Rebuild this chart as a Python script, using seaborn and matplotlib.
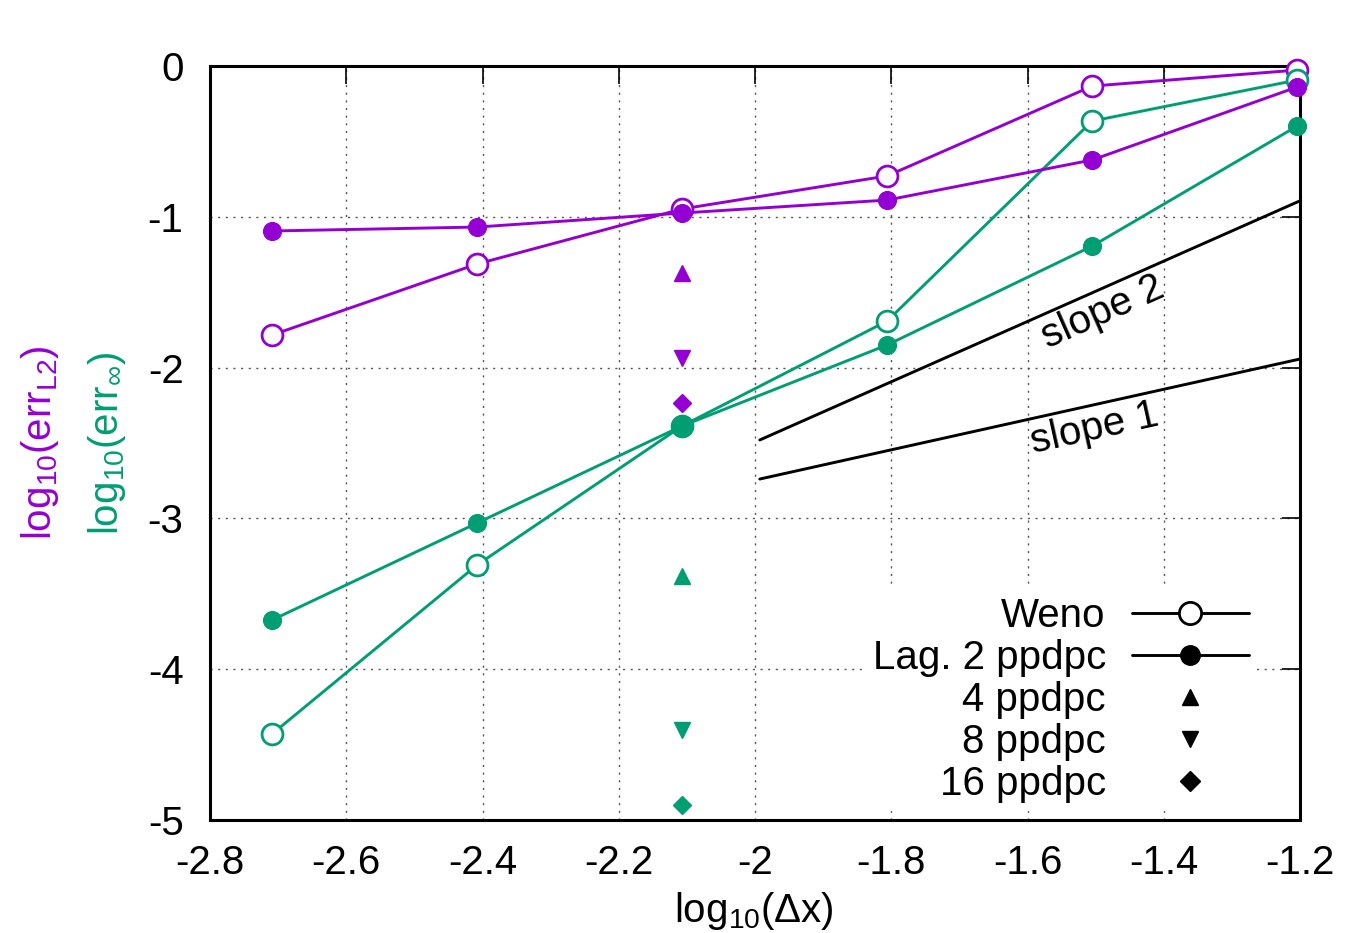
import numpy as np
import pandas as pd
import seaborn as sns
import matplotlib.pyplot as plt
from matplotlib.lines import Line2D

# log10(dx) for 16..512 cells
log_dx = [-2.709, -2.408, -2.107, -1.806, -1.505, -1.204]

# L2 errors (purple)
weno_l2 = [-1.784, -1.313, -0.948, -0.729, -0.133, -0.027]
lag2_l2 = [-1.094, -1.068, -0.975, -0.889, -0.623, -0.139]
# Linf errors (green)
weno_inf = [-4.430, -3.309, -2.387, -1.691, -0.365, -0.093]
lag2_inf = [-3.674, -3.031, -2.387, -1.850, -1.194, -0.398]

# higher ppdpc, only at the 3rd resolution
ppdpc_x = -2.107
ppdpc_l2 = {"4": -1.373, "8": -1.936, "16": -2.235}
ppdpc_inf = {"4": -3.382, "8": -4.403, "16": -4.900}

# reference slopes
slope_x = [-1.993, -1.2]
slope2_y = [-2.480, -0.894]
slope1_y = [-2.739, -1.943]

purple = "#9400D3"
green = "#009E73"

sns.set_style("white")
plt.rcParams["font.family"] = ["Liberation Sans", "DejaVu Sans"]
plt.rcParams["mathtext.fontset"] = "custom"
plt.rcParams["mathtext.rm"] = "Liberation Sans"
plt.rcParams["mathtext.it"] = "Liberation Sans:italic"
plt.rcParams["text.color"] = "black"
plt.rcParams["xtick.color"] = "black"
plt.rcParams["ytick.color"] = "black"
fs = 29
plt.rcParams["font.size"] = fs

fig = plt.figure(figsize=(13.46, 9.33), dpi=100)
ax = fig.add_axes([210 / 1346, 1 - 820 / 933, 1090 / 1346, 754 / 933])

lw = 2.1
for ys, col in [(weno_l2, purple), (weno_inf, green)]:
    sns.lineplot(x=log_dx, y=ys, ax=ax, color=col, lw=lw, marker="o",
                 markersize=15, markerfacecolor="white", markeredgecolor=col,
                 markeredgewidth=2.0, zorder=3, clip_on=False)
for ys, col in [(lag2_l2, purple), (lag2_inf, green)]:
    sns.lineplot(x=log_dx, y=ys, ax=ax, color=col, lw=lw, marker="o",
                 markersize=13, markeredgecolor=col, zorder=4, clip_on=False)

mk = {"4": "^", "8": "v", "16": "D"}
for d, col in [(ppdpc_l2, purple), (ppdpc_inf, green)]:
    for k, v in d.items():
        ax.plot([ppdpc_x], [v], ls="none", marker=mk[k], color=col,
                markersize=9 if k == "16" else 11, zorder=4)

ax.plot(slope_x, slope2_y, color="black", lw=lw)
ax.plot(slope_x, slope1_y, color="black", lw=lw)
ax.text(-1.49, -1.63, "slope 2", rotation=24, ha="center", va="center")
ax.text(-1.501, -2.40, "slope 1", rotation=12.5, ha="center", va="center")

ax.set_xlim(-2.8, -1.2)
ax.set_ylim(-5, 0)
ax.set_xticks(np.arange(-2.8, -1.19, 0.2))
ax.set_xticklabels(["-2.8", "-2.6", "-2.4", "-2.2", "-2", "-1.8", "-1.6", "-1.4", "-1.2"])
ax.set_yticks([0, -1, -2, -3, -4, -5])
ax.set_yticklabels(["0", "-1", "-2", "-3", "-4", "-5"])
ax.tick_params(direction="in", length=13, width=1.2, top=True, right=True,
               labelsize=fs)
ax.tick_params(axis="x", pad=17)
ax.tick_params(axis="y", pad=19)
ax.grid(True, color="#555555", linestyle=(0, (1.5, 4)), lw=1.0)
for s in ax.spines.values():
    s.set_linewidth(2.2)
    s.set_color("black")

handles = [
    Line2D([], [], color="black", lw=lw, marker="o", markersize=16,
           markerfacecolor="white", markeredgewidth=2.0),
    Line2D([], [], color="black", lw=lw, marker="o", markersize=14),
    Line2D([], [], ls="none", marker="^", color="black", markersize=12),
    Line2D([], [], ls="none", marker="v", color="black", markersize=12),
    Line2D([], [], ls="none", marker="D", color="black", markersize=10),
]
labels = ["Weno", "Lag. 2 ppdpc", "4 ppdpc", "8 ppdpc", "16 ppdpc"]
leg = ax.legend(handles, labels, loc="lower right", markerfirst=False,
                bbox_to_anchor=(1277 / 1346, 1 - 831 / 933),
                bbox_transform=fig.transFigure, frameon=True, fancybox=False,
                handlelength=2.9, handletextpad=0.65, labelspacing=0.1,
                borderpad=0.2, fontsize=fs)
leg.get_frame().set_edgecolor("none")
leg.get_frame().set_facecolor("white")
leg.get_frame().set_alpha(1)
leg.set_zorder(5)

fig.text(40 / 1346, 1 - 443 / 933, r"log$_{10}$(err$_{\mathrm{L2}}$)",
         color=purple, rotation=90, ha="center", va="center", fontsize=fs)
fig.text(107 / 1346, 1 - 443 / 933, r"log$_{10}$(err$_{∞}$)",
         color=green, rotation=90, ha="center", va="center", fontsize=fs)
fig.text(754 / 1346, 1 - 911 / 933, r"log$_{10}$($\Delta$x)",
         ha="center", va="center", fontsize=fs)

fig.savefig("out.png", dpi=100)
